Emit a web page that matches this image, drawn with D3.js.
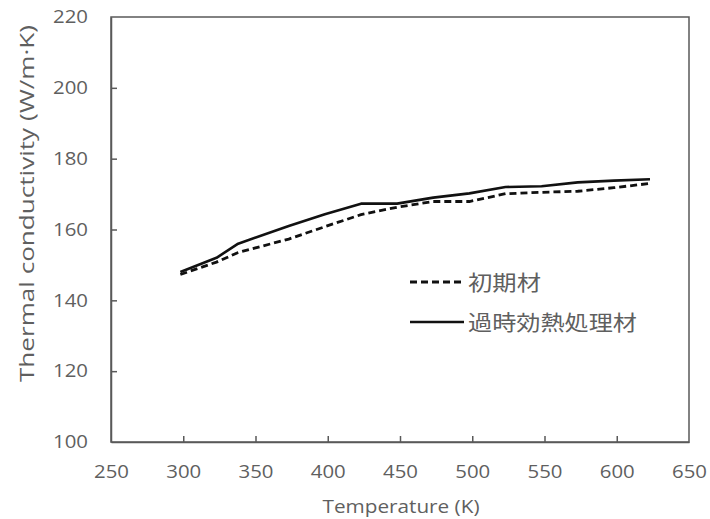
<!DOCTYPE html>
<html>
<head>
<meta charset="utf-8">
<script src="https://cdn.jsdelivr.net/npm/d3@7"></script>
<style>
  html, body { margin: 0; padding: 0; background: #fff; }
  svg { display: block; }
  text { font-family: "Open Sans", "Noto Sans CJK JP", sans-serif; fill: #5f5f5f; }
</style>
</head>
<body>
<svg id="chart" width="710" height="519"></svg>
<script>
// ---- data ----
const temperatures = [298, 323, 338, 373, 398, 423, 448, 473, 498, 523, 548, 573, 598, 623];
const initialMaterial = [147.3, 150.8, 153.5, 157.3, 160.8, 164.2, 166.3, 167.9, 167.9, 170.1, 170.5, 170.8, 171.8, 173.0];
const overagedMaterial = [148.0, 152.0, 156.0, 161.0, 164.3, 167.3, 167.3, 169.0, 170.2, 172.0, 172.2, 173.3, 173.8, 174.2];
const seriesNames = ["初期材", "過時効熱処理材"];
const xTicks = [250, 300, 350, 400, 450, 500, 550, 600, 650];
const yTicks = [100, 120, 140, 160, 180, 200, 220];
const xTitle = "Temperature (K)";
const yTitle = "Thermal conductivity (W/m·K)";

// ---- layout ----
const svg = d3.select("#chart");
const mLeft = 111, mRight = 689, mTop = 17, mBottom = 442;
const x = d3.scaleLinear().domain([250, 650]).range([mLeft, mRight]);
const y = d3.scaleLinear().domain([100, 220]).range([mBottom, mTop]);
const axisColor = "#595959";
const textColor = "#5f5f5f";

// frame
svg.append("rect")
  .attr("x", mLeft).attr("y", mTop)
  .attr("width", mRight - mLeft).attr("height", mBottom - mTop)
  .attr("fill", "none").attr("stroke", axisColor).attr("stroke-width", 1.5);

// axes (inside ticks)
const xAxis = svg.append("g").attr("transform", `translate(0,${mBottom})`)
  .call(d3.axisBottom(x).tickValues(xTicks).tickSizeInner(-6).tickSizeOuter(0).tickPadding(23).tickFormat(d3.format("d")));
const yAxis = svg.append("g").attr("transform", `translate(${mLeft},0)`)
  .call(d3.axisLeft(y).tickValues(yTicks).tickSizeInner(-6).tickSizeOuter(0).tickPadding(23).tickFormat(d3.format("d")));
[xAxis, yAxis].forEach(g => {
  g.select(".domain").attr("stroke", axisColor).attr("stroke-width", 1.5);
  g.selectAll(".tick line").attr("stroke", axisColor).attr("stroke-width", 1.5);
  g.selectAll(".tick text").attr("fill", textColor)
    .style("font-size", "18px").style("font-family", "'Open Sans', sans-serif");
});
xAxis.selectAll(".tick").filter(d => d === 250 || d === 650).select("line").remove();
yAxis.selectAll(".tick").filter(d => d === 100 || d === 220).select("line").remove();
xAxis.selectAll(".tick text").attr("textLength", 35).attr("lengthAdjust", "spacingAndGlyphs");
yAxis.selectAll(".tick text").attr("textLength", 35).attr("lengthAdjust", "spacingAndGlyphs");

// titles
svg.append("text")
  .attr("x", (322 + 480) / 2).attr("y", 513)
  .attr("text-anchor", "middle")
  .attr("textLength", 157).attr("lengthAdjust", "spacingAndGlyphs")
  .style("font-size", "19px")
  .text(xTitle);
svg.append("text")
  .attr("transform", `translate(27,${(25 + 382) / 2}) rotate(-90)`)
  .attr("text-anchor", "middle").attr("dy", "0.35em")
  .attr("textLength", 357).attr("lengthAdjust", "spacingAndGlyphs")
  .style("font-size", "20px")
  .text(yTitle);

// lines
const line = d3.line().x((d, i) => x(temperatures[i])).y(d => y(d));
svg.append("path").datum(overagedMaterial)
  .attr("d", line).attr("fill", "none")
  .attr("stroke", "#111").attr("stroke-width", 2.6).attr("stroke-linejoin", "round");
svg.append("path").datum(initialMaterial)
  .attr("d", line).attr("fill", "none")
  .attr("stroke", "#111").attr("stroke-width", 2.8).attr("stroke-dasharray", "7,4");

// legend
const legend = [
  { name: seriesNames[0], dash: "7,4", y: 282, len: 73 },
  { name: seriesNames[1], dash: null, y: 322, len: 169 }
];
legend.forEach(l => {
  svg.append("line")
    .attr("x1", 410).attr("x2", 464).attr("y1", l.y).attr("y2", l.y)
    .attr("stroke", "#111").attr("stroke-width", l.dash ? 2.8 : 2.6)
    .attr("stroke-dasharray", l.dash);
  svg.append("text")
    .attr("x", 468).attr("y", l.y).attr("dy", "0.36em")
    .attr("textLength", l.len).attr("lengthAdjust", "spacingAndGlyphs")
    .style("font-family", "'Noto Sans CJK JP', sans-serif")
    .style("font-size", "21px")
    .text(l.name);
});
</script>
</body>
</html>
